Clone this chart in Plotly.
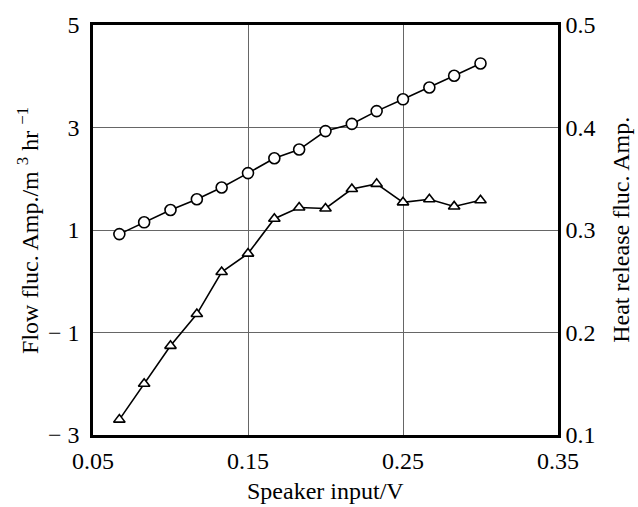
import plotly.graph_objects as go

# Data
speaker_input = [0.067, 0.083, 0.100, 0.117, 0.133, 0.150, 0.167, 0.183,
                 0.200, 0.217, 0.233, 0.250, 0.267, 0.283, 0.300]
flow_fluc = [0.92, 1.15, 1.39, 1.60, 1.83, 2.11, 2.40, 2.57,
             2.93, 3.07, 3.32, 3.55, 3.78, 4.01, 4.25]
heat_release_fluc = [0.115, 0.150, 0.187, 0.218, 0.259, 0.277, 0.311, 0.322,
                     0.321, 0.340, 0.345, 0.327, 0.330, 0.323, 0.329]

x_ticks = [0.05, 0.15, 0.25, 0.35]
x_ticktext = ["0.05", "0.15", "0.25", "0.35"]
y_ticks = [-3, -1, 1, 3, 5]
y_ticktext = ["\u2212 3", "\u2212 1", "1", "3", "5"]
y2_ticks = [0.1, 0.2, 0.3, 0.4, 0.5]
y2_ticktext = ["0.1", "0.2", "0.3", "0.4", "0.5"]

FONT = "Liberation Serif, Times New Roman, serif"
FS = 24

fig = go.Figure()
fig.add_trace(go.Scatter(
    x=speaker_input, y=flow_fluc, mode="lines+markers",
    line=dict(color="black", width=1.6),
    marker=dict(symbol="circle", size=11, color="white",
                line=dict(color="black", width=1.6)),
    yaxis="y", showlegend=False))
fig.add_trace(go.Scatter(
    x=speaker_input, y=heat_release_fluc, mode="lines+markers",
    line=dict(color="black", width=1.6),
    marker=dict(symbol="triangle-up", size=10, color="white",
                line=dict(color="black", width=1.6)),
    yaxis="y2", showlegend=False))

fig.update_layout(
    width=638, height=507,
    margin=dict(l=93, r=80, t=18, b=72),
    paper_bgcolor="white", plot_bgcolor="white",
    font=dict(family=FONT, size=FS, color="black"),
    xaxis=dict(range=[0.05, 0.35], tickvals=x_ticks, ticktext=x_ticktext,
               showgrid=True, gridcolor="#666666", gridwidth=1,
               showline=True, linecolor="black", linewidth=2.5, mirror=True,
               ticks="", zeroline=False, ticklabelstandoff=2),
    yaxis=dict(range=[-3, 5], tickvals=y_ticks, ticktext=y_ticktext,
               showgrid=True, gridcolor="#666666", gridwidth=1,
               showline=True, linecolor="black", linewidth=2.5, mirror=True,
               ticks="", zeroline=False, ticklabelstandoff=6),
    yaxis2=dict(range=[0.1, 0.5], tickvals=y2_ticks, ticktext=y2_ticktext,
                overlaying="y", side="right", showgrid=False,
                showline=True, linecolor="black", linewidth=2.5,
                ticks="", zeroline=False, ticklabelstandoff=0),
    annotations=[
        dict(text="Speaker input/V", xref="paper", yref="paper",
             x=0.5, y=-0.137, xanchor="center", yanchor="middle",
             showarrow=False, font=dict(family=FONT, size=FS)),
        dict(text="Flow fluc. Amp./m <sup>3</sup> hr <sup>\u22121</sup>",
             xref="paper", yref="paper", x=-0.14, y=0.5,
             xanchor="center", yanchor="middle", textangle=-90,
             showarrow=False, font=dict(family=FONT, size=FS)),
        dict(text="Heat release fluc. Amp.", xref="paper", yref="paper",
             x=1.135, y=0.5, xanchor="center", yanchor="middle",
             textangle=-90, showarrow=False, font=dict(family=FONT, size=FS)),
    ],
)

fig.write_html("out.html")
